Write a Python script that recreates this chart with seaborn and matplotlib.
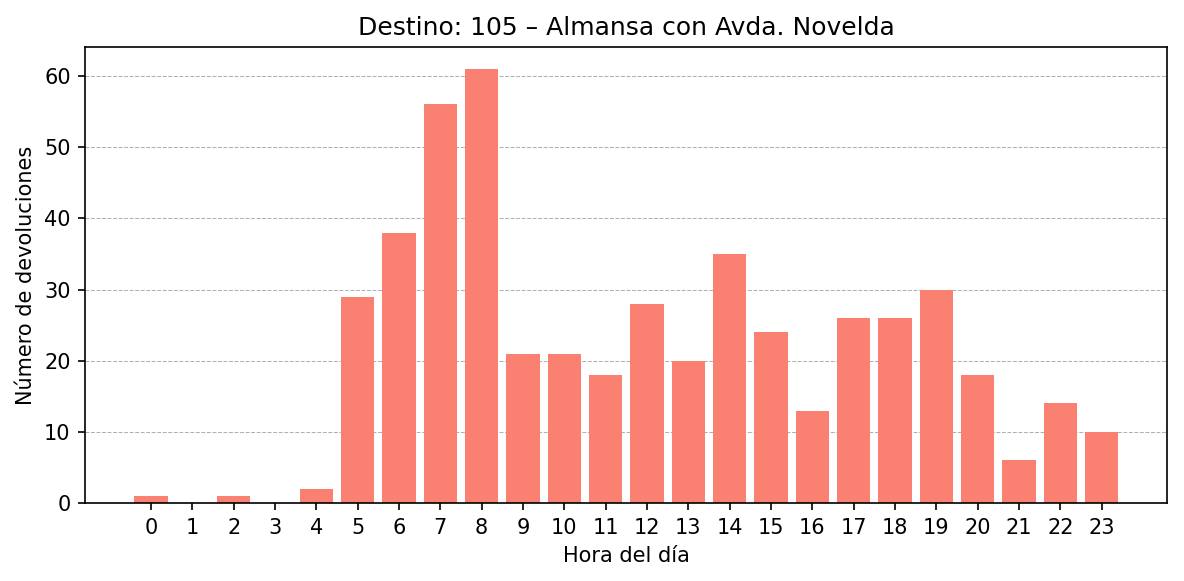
import numpy as np
import pandas as pd
import matplotlib
matplotlib.use("Agg")
import matplotlib.pyplot as plt
import seaborn as sns

horas = list(range(24))
devoluciones = [1, 0, 1, 0, 2, 29, 38, 56, 61, 21, 21, 18,
                28, 20, 35, 24, 13, 26, 26, 30, 18, 6, 14, 10]
titulo = "Destino: 105 – Almansa con Avda. Novelda"


def main():
    # plain matplotlib look, like the reference
    plt.rcParams['font.family'] = ['DejaVu Sans']
    df = pd.DataFrame({"hora": horas, "n": devoluciones})

    fig, ax = plt.subplots(figsize=(1184 / 150, 581 / 150), dpi=150)
    sns.barplot(data=df, x="hora", y="n", color="salmon", saturation=1,
                width=0.8, ax=ax, linewidth=0, edgecolor="none")
    ax.set_xlim(-1.59, 24.59)
    ax.set_ylim(0, max(devoluciones) * 1.05)
    ax.set_xticks(range(24))
    ax.set_xticklabels([str(h) for h in horas])
    ax.grid(axis="y", linestyle="--", linewidth=0.5, color="#b0b0b0")
    ax.set_axisbelow(True)
    ax.tick_params(axis="both", colors="black", labelsize=10)
    ax.set_xlabel("Hora del día", fontsize=10, color="black")
    ax.set_ylabel("Número de devoluciones", fontsize=10, color="black")
    ax.set_title(titulo, fontsize=12, color="black")
    fig.subplots_adjust(left=0.072, right=0.986, top=0.919, bottom=0.134)
    fig.savefig("out.png", dpi=150)


if __name__ == "__main__":
    main()
